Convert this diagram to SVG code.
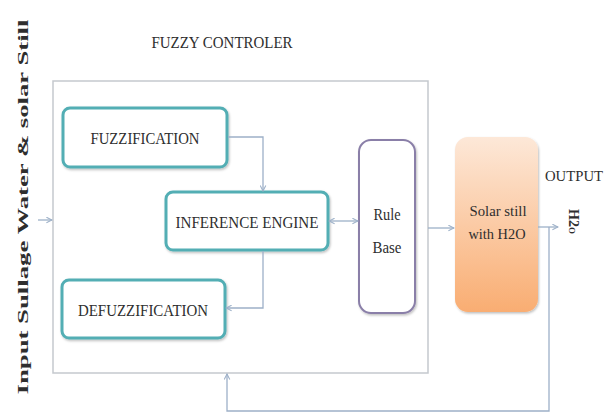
<svg xmlns="http://www.w3.org/2000/svg" width="614" height="414" viewBox="0 0 614 414">
<style>
text{font-family:'Liberation Serif','Times New Roman','DejaVu Serif',serif;fill:#2e2e2e;}
.box{fill:#fff;stroke:#52aeb4;stroke-width:3;}
.c{fill:none;stroke:#9db0c8;stroke-width:1.3;}
</style>
<defs>
<linearGradient id="og" x1="0" y1="0" x2="0" y2="1">
<stop offset="0" stop-color="#fde8d8"/>
<stop offset="1" stop-color="#f9ad72"/>
</linearGradient>
<marker id="ar" viewBox="0 0 10 10" refX="9" refY="5" markerWidth="7" markerHeight="7" orient="auto-start-reverse" markerUnits="userSpaceOnUse">
<path d="M1,1 L9,5 L1,9" fill="none" stroke="#9db0c8" stroke-width="1.5"/>
</marker>
<filter id="sh" x="-10%" y="-10%" width="130%" height="130%">
<feDropShadow dx="1" dy="1.5" stdDeviation="1" flood-color="#000" flood-opacity="0.25"/>
</filter>
</defs>
<rect width="614" height="414" fill="#fff"/>
<text x="28" y="207" font-size="14" font-weight="bold" text-anchor="middle" textLength="375" lengthAdjust="spacingAndGlyphs" transform="rotate(-90 28 207)" fill="#222">Input Sullage Water &amp; solar Still</text>
<text x="222" y="48" font-size="16" text-anchor="middle" textLength="141" lengthAdjust="spacingAndGlyphs">FUZZY CONTROLER</text>
<g id="controller">
<rect x="53" y="81" width="375" height="292" fill="#fff" stroke="#c5c9ce" stroke-width="1.5"/>
</g>
<g id="fuzzification">
<rect class="box" x="63" y="108" width="164" height="59" rx="7" filter="url(#sh)"/>
<text x="145" y="144" font-size="16" text-anchor="middle" textLength="109" lengthAdjust="spacingAndGlyphs">FUZZIFICATION</text>
</g>
<g id="inference">
<rect class="box" x="166" y="192" width="162" height="58" rx="7" filter="url(#sh)"/>
<text x="247" y="228" font-size="16" text-anchor="middle" textLength="143" lengthAdjust="spacingAndGlyphs">INFERENCE ENGINE</text>
</g>
<g id="defuzzification">
<rect class="box" x="62" y="280" width="163" height="58" rx="7" filter="url(#sh)"/>
<text x="143" y="316" font-size="16" text-anchor="middle" textLength="130" lengthAdjust="spacingAndGlyphs">DEFUZZIFICATION</text>
</g>
<g id="rulebase">
<rect x="359" y="140" width="56" height="173" rx="12" fill="#fff" stroke="#8a7fa8" stroke-width="2" filter="url(#sh)"/>
<text x="387" y="220" font-size="16" text-anchor="middle" textLength="27" lengthAdjust="spacingAndGlyphs">Rule</text>
<text x="387" y="253" font-size="16" text-anchor="middle" textLength="29" lengthAdjust="spacingAndGlyphs">Base</text>
</g>
<g id="solarstill">
<rect x="455" y="137" width="83" height="175" rx="13" fill="url(#og)" filter="url(#sh)"/>
<text x="498" y="216" font-size="15" text-anchor="middle" textLength="57" lengthAdjust="spacingAndGlyphs">Solar still</text>
<text x="497" y="239" font-size="15" text-anchor="middle" textLength="57" lengthAdjust="spacingAndGlyphs">with H2O</text>
</g>
<g id="output">
<text x="574" y="181" font-size="15" text-anchor="middle" textLength="58" lengthAdjust="spacingAndGlyphs">OUTPUT</text>
<text x="569" y="209" font-size="14" font-weight="bold" transform="rotate(90 569 209)" fill="#222">H2<tspan font-size="9">O</tspan></text>
</g>
<g id="connectors">
<path class="c" d="M38,220 H52" marker-end="url(#ar)"/>
<path class="c" d="M228,137 H263 V191" marker-end="url(#ar)"/>
<path class="c" d="M263,251 V308 H226" marker-end="url(#ar)"/>
<path class="c" d="M329,221 H358" marker-start="url(#ar)" marker-end="url(#ar)"/>
<path class="c" d="M428,228 H454" marker-end="url(#ar)"/>
<path class="c" d="M538,227 H558" marker-end="url(#ar)"/>
<path class="c" d="M549,227 V411 H227 V374" marker-end="url(#ar)"/>
</g>
</svg>
